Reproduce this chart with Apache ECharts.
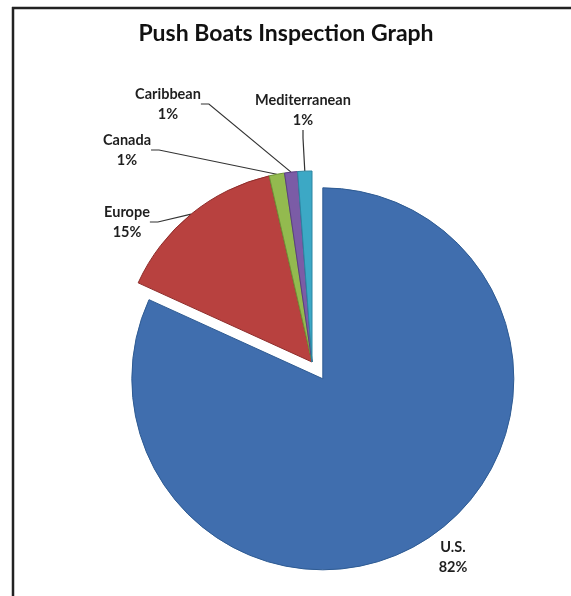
<!DOCTYPE html>
<html>
<head>
<meta charset="utf-8">
<script src="https://cdn.jsdelivr.net/npm/echarts@6/dist/echarts.min.js"></script>
<style>
html,body{margin:0;padding:0;background:#fff;}
#c{width:571px;height:596px;}
</style>
</head>
<body>
<div id="c"></div>
<script>
// ---- data ----
const categories = ['U.S.', 'Europe', 'Canada', 'Caribbean', 'Mediterranean'];
const values = [81.8, 14.6, 1.3, 1.1, 1.2];
const titleText = 'Push Boats Inspection Graph';
const explodedCategory = 'U.S.';

// ---- styles / positions (not data) ----
const colors = ['#406EAE', '#B8413F', '#93BA4F', '#7B5CA6', '#3CA8C5'];
const borders = ['#2E5B93', '#8E2C2A', '#6F9236', '#5A3F82', '#2A86A2'];
const labelCenters = {
  'U.S.': [453, 555],
  'Europe': [127, 220],
  'Canada': [127, 148],
  'Caribbean': [168, 102],
  'Mediterranean': [303, 108]
};
const pieCenter = [312, 362];
const pieRadius = 191;
const explodeDist = 20;

// direction of the exploded slice's bisector (clockwise from 12 o'clock)
const total = values.reduce((a, b) => a + b, 0);
let before = 0;
const exIdx = categories.indexOf(explodedCategory);
for (let i = 0; i < exIdx; i++) before += values[i];
const midAng = (before + values[exIdx] / 2) / total * 2 * Math.PI;
const exCenter = [pieCenter[0] + explodeDist * Math.sin(midAng), pieCenter[1] - explodeDist * Math.cos(midAng)];

function makeData(showExploded) {
  return categories.map((n, i) => {
    const visible = (n === explodedCategory) === showExploded;
    return {
      name: n,
      value: values[i],
      itemStyle: visible
        ? {color: colors[i], borderColor: borders[i], borderWidth: 1}
        : {color: 'rgba(0,0,0,0)', borderWidth: 0},
      label: {show: visible},
      labelLine: {show: visible && n !== explodedCategory}
    };
  });
}

const common = {
  type: 'pie',
  radius: [0, pieRadius],
  startAngle: 90,
  clockwise: true,
  percentPrecision: 0,
  avoidLabelOverlap: false,
  silent: true,
  emphasis: {disabled: true},
  label: {
    formatter: '{b}\n{d}%',
    fontFamily: 'Lato',
    fontWeight: 'bold',
    fontSize: 14.5,
    lineHeight: 20,
    color: '#1f1f1f',
    align: 'center'
  },
  labelLine: {
    length: 8,
    length2: 8,
    lineStyle: {color: '#333', width: 1.2}
  },
  labelLayout: function (params) {
    const n = categories[params.dataIndex];
    const p = labelCenters[n];
    const r = params.labelRect;
    return {x: p[0], y: p[1] - r.height / 2 + 2, align: 'center', verticalAlign: 'top'};
  }
};

const chart = echarts.init(document.getElementById('c'), null, {renderer: 'canvas'});
chart.setOption({
  backgroundColor: '#ffffff',
  animation: false,
  title: {
    text: titleText,
    left: 281,
    textAlign: 'center',
    top: 17,
    textStyle: {fontFamily: 'Lato', fontWeight: 'bold', fontSize: 23, color: '#111'}
  },
  graphic: [
    {type: 'line', shape: {x1: 12, y1: 8, x2: 571, y2: 8}, style: {stroke: '#222', lineWidth: 2.5}, silent: true},
    {type: 'line', shape: {x1: 13, y1: 7, x2: 13, y2: 596}, style: {stroke: '#222', lineWidth: 2.5}, silent: true}
  ],
  series: [
    Object.assign({}, common, {name: 'rest', center: pieCenter, data: makeData(false)}),
    Object.assign({}, common, {name: 'exploded', center: exCenter, data: makeData(true)})
  ]
});
</script>
</body>
</html>
